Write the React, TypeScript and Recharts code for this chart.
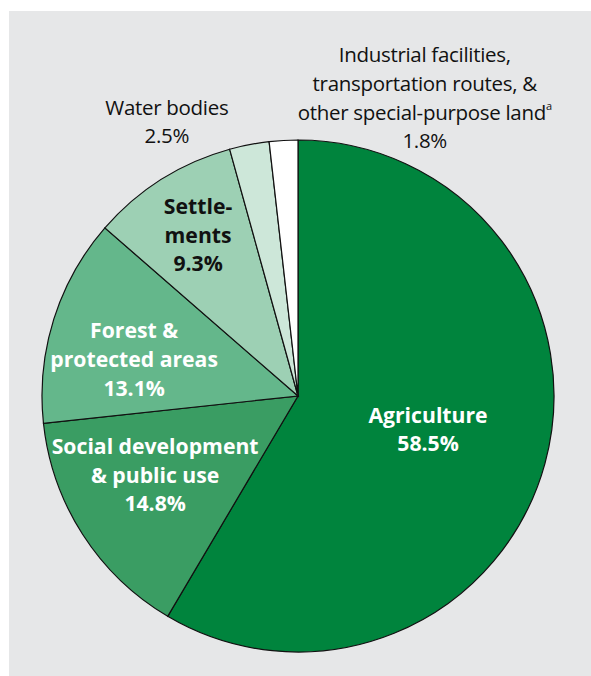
import { PieChart, Pie, Cell } from "recharts"

// land use shares, clockwise from 12 o'clock
const categories = [
  "Agriculture",
  "Social development\n& public use",
  "Forest &\nprotected areas",
  "Settle-\nments",
  "Water bodies",
  "Industrial facilities,\ntransportation routes, &\nother special-purpose land",
]
const shares = [58.5, 14.8, 13.1, 9.3, 2.5, 1.8]
const footnotes = ["", "", "", "", "", "a"]

const fills = ["#00843d", "#3a9d63", "#64b78b", "#9dd0b4", "#cde7d9", "#ffffff"]
const textColors = ["#ffffff", "#ffffff", "#ffffff", "#111111", "#111111", "#111111"]
const textWeights = [700, 700, 700, 700, 400, 400]
// where each label block sits: fraction of radius, angle in degrees
const labelSpots: [number, number][] = [
  [0.523, -13.8],
  [0.635, 208.5],
  [0.657, 167],
  [0.745, 121.6],
  [1.19, 115.5],
  [1.267, 67],
]

const data = categories.map((name, i) => ({ name, value: shares[i] }))

const LINE_H = 28.7
const SUP_SHIFT = 7
const RAD = Math.PI / 180

// eslint-disable-next-line @typescript-eslint/no-explicit-any
const renderLabel = (props: any) => {
  const { cx, cy, outerRadius, index } = props
  const [ratio, angle] = labelSpots[index]
  const x = cx + outerRadius * ratio * Math.cos(angle * RAD)
  const y = cy - outerRadius * ratio * Math.sin(angle * RAD)
  const lines = categories[index].split("\n")
  const all = [...lines, `${shares[index].toFixed(1)}%`]
  const top = y - ((all.length - 1) * LINE_H) / 2
  const note = footnotes[index]
  const bold = textWeights[index] === 700
  return (
    <text
      key={index}
      x={x}
      y={top}
      textAnchor="middle"
      dominantBaseline="central"
      fill={textColors[index]}
      fontWeight={textWeights[index]}
      fontSize={bold ? 21.2 : 20.5}
      fontFamily="'Open Sans', sans-serif"
      letterSpacing={bold ? 0 : -0.3}
    >
      {all.map((t, i) => {
        // the superscript shifts the pen up, so the next line goes further down
        const afterNote = note && i === lines.length
        return (
          <tspan key={i} x={x} dy={i === 0 ? 0 : afterNote ? LINE_H + SUP_SHIFT : LINE_H}>
            {t}
            {i === lines.length - 1 && note ? (
              <tspan fontSize={11} dy={-SUP_SHIFT}>
                {note}
              </tspan>
            ) : null}
          </tspan>
        )
      })}
    </text>
  )
}

export default function App() {
  return (
    <div style={{ position: "absolute", left: 0, top: 0, width: 591, height: 676, background: "#ffffff" }}>
      <div style={{ position: "absolute", left: 9, top: 11, width: 582, height: 665, background: "#e6e7e8" }} />
      <div style={{ position: "absolute", left: 0, top: 0 }}>
        <PieChart width={591} height={676} margin={{ top: 0, right: 0, bottom: 0, left: 0 }}>
          <Pie
            data={data}
            dataKey="value"
            nameKey="name"
            cx={298}
            cy={396}
            outerRadius={256}
            startAngle={90}
            endAngle={-270}
            stroke="#111111"
            strokeWidth={1.2}
            label={renderLabel}
            labelLine={false}
            isAnimationActive={false}
          >
            {data.map((_, i) => (
              <Cell key={i} fill={fills[i]} />
            ))}
          </Pie>
        </PieChart>
      </div>
    </div>
  )
}
